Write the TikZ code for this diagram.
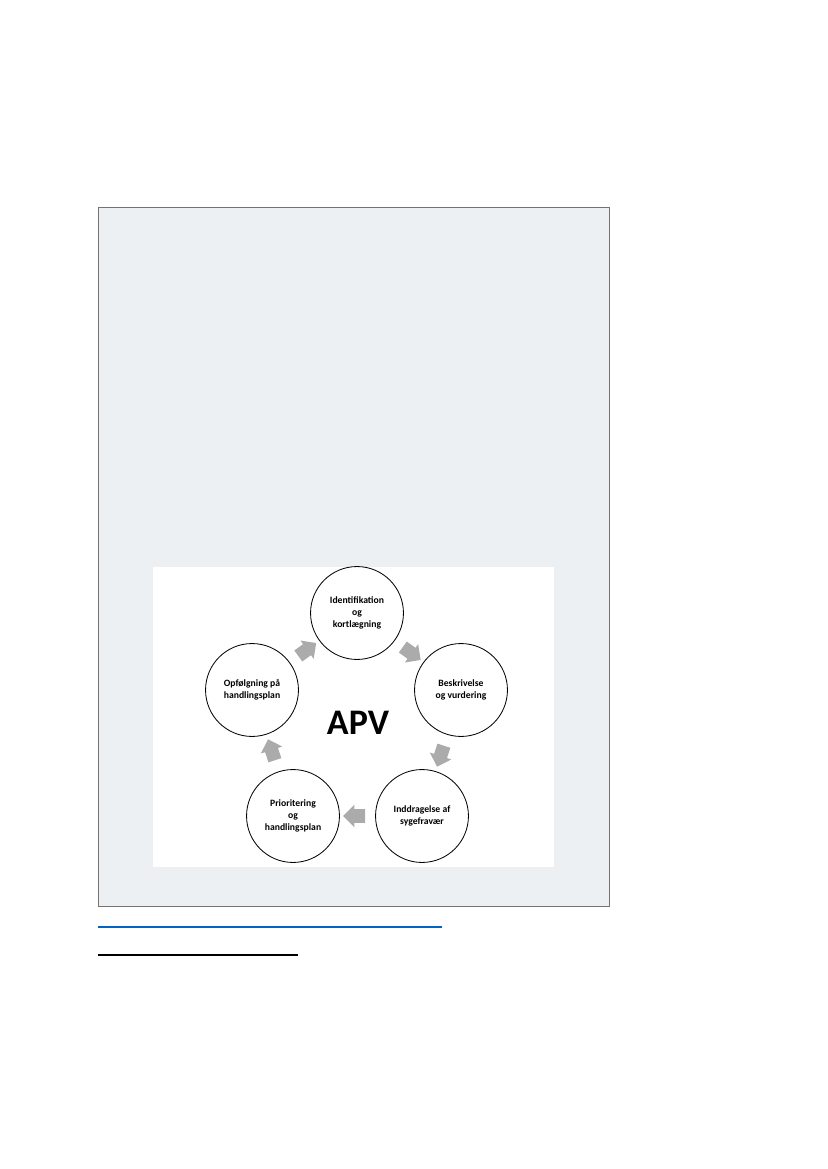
\documentclass[tikz,border=0pt]{standalone}
\usepackage{fontspec}
\setmainfont{Carlito}
\usetikzlibrary{positioning, calc, shapes.arrows}

\definecolor{panelgray}{RGB}{236,240,243}
\definecolor{linkblue}{RGB}{5,99,193}

\begin{document}
\begin{tikzpicture}[
    x=0.254mm, y=-0.254mm,
    stage/.style={draw, circle, minimum size=23.6mm, inner sep=0pt,
                  align=center, line width=0.6pt,
                  font=\fontsize{7}{8.8}\selectfont\bfseries},
    cyclearrow/.style={single arrow, fill=black!33, inner xsep=0pt,
                       inner ysep=1.65mm, minimum height=5.6mm,
                       single arrow head extend=1.15mm},
    title/.style={font=\fontsize{26}{30}\selectfont\bfseries},
]

\useasboundingbox (0,0) rectangle (827,1169);

% ============================================================
% FRAME
% ============================================================
\fill[white] (0,0) rectangle (827,1169);
\draw[draw=black!55, fill=panelgray, line width=0.5pt] (98,207) rectangle (609,906);
\fill[white] (153,567) rectangle (554,867);

% --- Stages of the cycle ---
\node[stage] (ident)   at (357,613) {Identifikation\\og\\kortlægning};
\node[stage] (beskriv) at (461,690) {Beskrivelse\\og vurdering};
\node[stage] (inddrag) at (422,816) {Inddragelse af\\sygefravær};
\node[stage] (prior)   at (293,816) {Prioritering\\og\\handlingsplan};
\node[stage] (opfoelg) at (252,690) {Opfølgning på\\handlingsplan};

\node[title] (apv) at (358,723) {APV};

% --- Arrows between stages (clockwise) ---
\node[cyclearrow, rotate=36]   (a1) at ($(opfoelg)!0.5!(ident)$) {};
\node[cyclearrow, rotate=-36]  (a2) at ($(ident)!0.5!(beskriv)$) {};
\node[cyclearrow, rotate=-108] (a3) at ($(beskriv)!0.5!(inddrag)$) {};
\node[cyclearrow, rotate=180]  (a4) at ($(inddrag)!0.5!(prior)$) {};
\node[cyclearrow, rotate=108]  (a5) at ($(prior)!0.5!(opfoelg)$) {};

% ============================================================
% LINK UNDERLINES
% ============================================================
\draw[linkblue, line width=0.35mm] (98,927) -- (442,927);
\draw[black, line width=0.35mm] (98,955) -- (298,955);

\end{tikzpicture}
\end{document}
